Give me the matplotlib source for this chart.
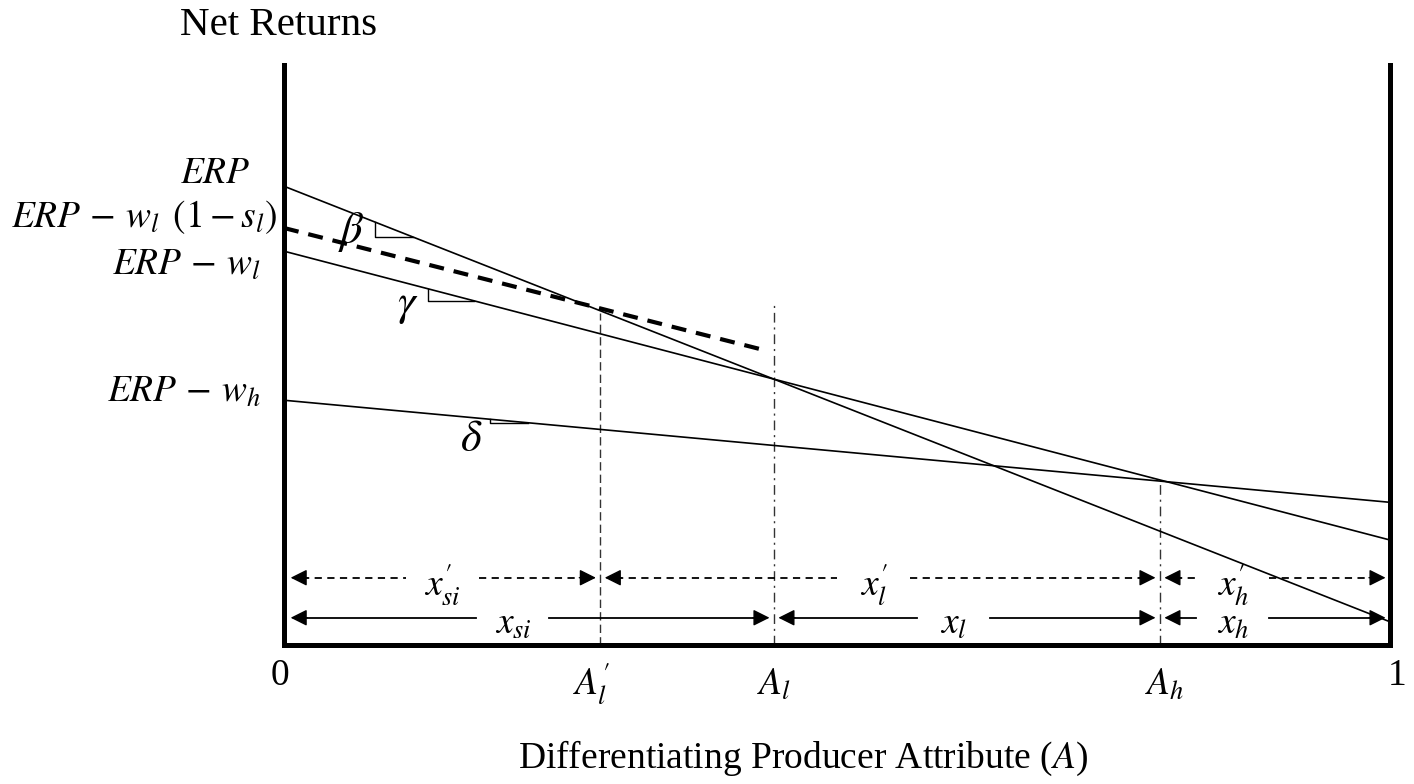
import matplotlib
matplotlib.use('Agg')
import matplotlib.pyplot as plt

plt.rcParams['font.family'] = ['Liberation Serif', 'DejaVu Serif']
plt.rcParams['mathtext.fontset'] = 'stix'

# return lines: value at A=0 and at A=1
line_names = ['beta', 'gamma', 'delta']
line_start = [0.791, 0.679, 0.422]
line_end = [0.040, 0.181, 0.246]

# dashed line ERP - w_l(1-s_l)
dash_x = [0.0, 0.435]
dash_y = [0.719, 0.508]

# cut-off points on the attribute axis
cut_x = [0.286, 0.443, 0.792]
cut_top = [0.572, 0.586, 0.283]
cut_labels = [r"$A_l^{\prime}$", r"$A_l$", r"$A_h$"]
cut_label_x = [0.278, 0.443, 0.796]

# y-axis labels
ylab_text = [r"$ERP$", r"$ERP\,-\,w_l\ \,(1-s_l)$", r"$ERP\,-\,w_l$", r"$ERP\,-\,w_h$"]
ylab_y = [0.797, 0.721, 0.638, 0.419]
ylab_x = [-0.030, -0.006, -0.021, -0.021]

# slope markers
tri_x = [[0.082, 0.117], [0.130, 0.172], [0.186, 0.221]]
greek = [r"$\beta$", r"$\gamma$", r"$\delta$"]
greek_pos = [(0.061, 0.712), (0.112, 0.584), (0.169, 0.354)]

# interval arrows: (left, right, label, label centre)
row_dashed = [(0.0, 0.286, r"$x_{si}^{\prime}$", 0.143),
              (0.286, 0.792, r"$x_l^{\prime}$", 0.533),
              (0.792, 1.0, r"$x_h^{\prime}$", 0.858)]
row_solid = [(0.0, 0.443, r"$x_{si}$", 0.207),
             (0.443, 0.792, r"$x_l$", 0.605),
             (0.792, 1.0, r"$x_h$", 0.858)]
row_y = [0.116, 0.047]

fs = 27

fig = plt.figure(figsize=(14.14, 7.84), dpi=100)
ax = fig.add_axes([284 / 1414, (784 - 645) / 784, 1106 / 1414, 580 / 784])
ax.set_xlim(0, 1)
ax.set_ylim(0, 1)
ax.set_xticks([])
ax.set_yticks([])
ax.spines['top'].set_visible(False)
for s in ['left', 'right', 'bottom']:
    ax.spines[s].set_linewidth(3.6)

def line_y(i, x):
    return line_start[i] + (line_end[i] - line_start[i]) * x

# main lines
for i in range(3):
    ax.plot([0, 1], [line_start[i], line_end[i]], color='k', lw=1.2, zorder=3,
            solid_capstyle='butt')
ax.plot(dash_x, dash_y, color='k', lw=3, ls=(0, (3.6, 2.4)), zorder=3)

# slope triangles
for i in range(3):
    xa, xb = tri_x[i]
    ya, yb = line_y(i, xa), line_y(i, xb)
    ax.plot([xa, xa, xb], [ya, yb, yb], color='k', lw=1.0, zorder=3)
    ax.text(greek_pos[i][0], greek_pos[i][1], greek[i], fontsize=32,
            ha='center', va='center')

# vertical guides
styles = [(0, (6, 3)), (0, (7, 3.5, 1.5, 3.5)), (0, (7, 3.5, 1.5, 3.5))]
for cx, ct, st in zip(cut_x, cut_top, styles):
    ax.plot([cx, cx], [0, ct], color='#333333', lw=1.0, ls=st, zorder=2)

# interval arrows
def arrow_row(segs, yy, ls):
    for x0, x1, lab, lx in segs:
        a = x0 + (0.006 if x0 == 0 else 0.004)
        b = x1 - 0.004
        half = 0.033
        ax.plot([a + 0.01, lx - half], [yy, yy], color='k', lw=1.3, ls=ls)
        ax.plot([lx + half, b - 0.01], [yy, yy], color='k', lw=1.3, ls=ls)
        for tip, tail in [(a, a + 0.015), (b, b - 0.015)]:
            ax.annotate('', xy=(tip, yy), xytext=(tail, yy),
                        arrowprops=dict(arrowstyle='-|>', color='k', lw=1.0,
                                        mutation_scale=25, shrinkA=0, shrinkB=0))
        ax.text(lx, yy - 0.012, lab, fontsize=fs, ha='center', va='center', zorder=2)

arrow_row(row_dashed, row_y[0], (0, (4, 3)))
arrow_row(row_solid, row_y[1], '-')

# y labels
for t, yy, xx in zip(ylab_text, ylab_y, ylab_x):
    ax.text(xx, yy, t, fontsize=fs, ha='right', va='baseline', clip_on=False)

# x labels
ax.text(-0.004, -0.069, "0", fontsize=fs, ha='center', va='baseline')
ax.text(1.006, -0.069, "1", fontsize=fs, ha='center', va='baseline')
for lab, lx in zip(cut_labels, cut_label_x):
    ax.text(lx, -0.086, lab, fontsize=fs, ha='center', va='baseline')

ax.text(-0.0045, 1.052, "Net Returns", fontsize=29.5, ha='center', va='baseline')
ax.text(0.469, -0.212, r"Differentiating Producer Attribute ($A$)", fontsize=fs,
        ha='center', va='baseline')

fig.savefig('out.png', dpi=100)
